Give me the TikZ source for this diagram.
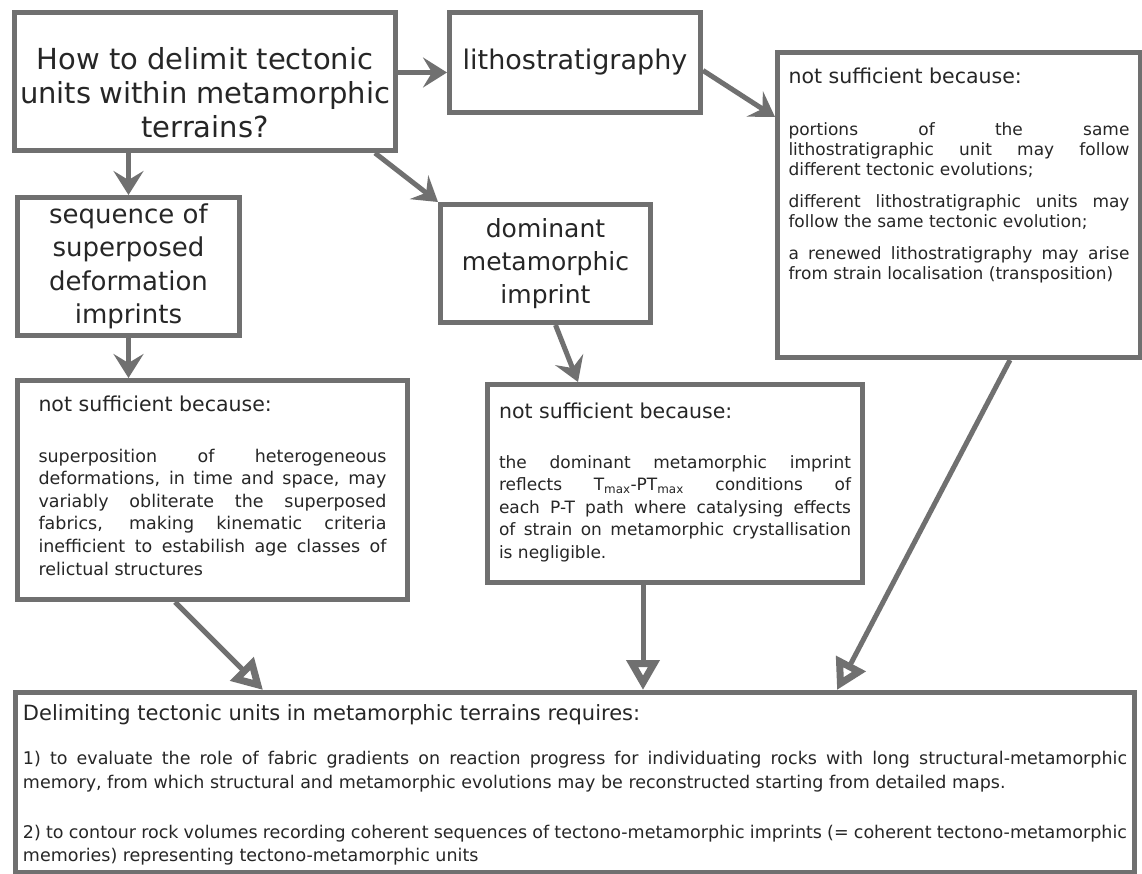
\documentclass[tikz,border=0pt]{standalone}
\usepackage{fontspec}
\setmainfont{DejaVu Sans}
\usepackage{tikz}
\usetikzlibrary{arrows.meta}
\definecolor{framegray}{RGB}{112,112,112}
\definecolor{inkgray}{RGB}{38,38,38}

\begin{document}
\begin{tikzpicture}[x=1pt, y=-1pt,
    box/.style={draw=framegray, line width=5pt, fill=white, anchor=north west, inner ysep=0pt, text=inkgray},
    push/.style={draw=framegray, line width=5pt, -{Stealth[length=24pt, width=30pt, inset=9pt]}},
    merge/.style={draw=framegray, line width=5pt, -{Triangle[open, length=30pt, width=32pt, line width=7pt]}}]

    % Canvas
    \useasboundingbox (0,0) rectangle (1142,874);
    \fill[white] (0,0) rectangle (1142,874);

    % Question
    \node[box, inner xsep=5.5] (question) at (12,10) {\begin{minipage}[c][138pt][t]{370pt}\centering\fontsize{29}{34}\selectfont
        \vspace*{35pt}How to delimit tectonic\\units within metamorphic\\terrains?\end{minipage}};

    % Three candidate criteria
    \node[box, inner sep=0pt, minimum width=251, minimum height=100, font=\fontsize{27}{32}\selectfont] (litho) at (447,10) {lithostratigraphy};
    \node[box, inner sep=0pt, minimum width=222, minimum height=138, align=center, font=\fontsize{26}{33.5}\selectfont] (sequence) at (15,195) {sequence of\\superposed\\deformation\\imprints};
    \node[box, inner sep=0pt, minimum width=210, minimum height=118, align=center, font=\fontsize{25}{33}\selectfont] (dominant) at (438,202) {dominant\\metamorphic\\imprint};

    % Why each one fails
    \node[box, inner xsep=11] (lithoreason) at (775,50) {\begin{minipage}[c][305pt][t]{341pt}\sloppy\hyphenpenalty=10000\exhyphenpenalty=10000
        \vspace*{15pt}{\fontsize{20.5}{24}\selectfont not sufficient because:\par}
        \vspace{32pt}\fontsize{17}{20}\selectfont
        portions of the same\linebreak lithostratigraphic unit may follow\linebreak different tectonic evolutions;\par
        \vspace{12pt}
        different lithostratigraphic units may\linebreak follow the same tectonic evolution;\par
        \vspace{12.5pt}
        a renewed lithostratigraphy may arise\linebreak from strain localisation (transposition)\par\end{minipage}};

    \node[box, inner xsep=21] (seqreason) at (15,378) {\begin{minipage}[c][219pt][t]{348pt}\sloppy\hyphenpenalty=10000\exhyphenpenalty=10000
        \vspace*{15pt}{\fontsize{20.5}{24}\selectfont not sufficient because:\par}
        \vspace{28.4pt}\fontsize{17.5}{22.6}\selectfont
        superposition of heterogeneous\linebreak deformations, in time and space, may\linebreak variably obliterate the superposed\linebreak fabrics, making kinematic criteria\linebreak inefficient to estabilish age classes of\linebreak relictual structures\par\end{minipage}};

    \node[box, inner xsep=11.5] (domreason) at (485,382) {\begin{minipage}[c][198pt][t]{352pt}\sloppy\hyphenpenalty=10000\exhyphenpenalty=10000
        \vspace*{18pt}{\fontsize{20.5}{24}\selectfont not sufficient because:\par}
        \vspace{27.5pt}\fontsize{17}{22.5}\selectfont
        the dominant metamorphic imprint\linebreak reflects T\textsubscript{max}-PT\textsubscript{max} conditions of\linebreak each P-T path where catalysing effects\linebreak of strain on metamorphic crystallisation\linebreak is negligible.\par\end{minipage}};

    % Conclusion
    \node[box, inner xsep=7.5] (requires) at (13,690) {\begin{minipage}[c][180pt][t]{1104pt}\sloppy\hyphenpenalty=10000\exhyphenpenalty=10000
        \vspace*{12pt}{\fontsize{21}{25}\selectfont Delimiting tectonic units in metamorphic terrains requires:\par}
        \vspace{21pt}\fontsize{17.5}{23.5}\selectfont
        1) to evaluate the role of fabric gradients on reaction progress for individuating rocks with long structural-metamorphic\linebreak memory, from which structural and metamorphic evolutions may be reconstructed starting from detailed maps.\par
        \vspace{26.5pt}
        2) to contour rock volumes recording coherent sequences of tectono-metamorphic imprints (= coherent tectono-metamorphic\linebreak memories) representing tectono-metamorphic units\par\end{minipage}};

    % Arrows from the question
    \draw[push] ([yshift=9pt]question.east) -- ([yshift=-10pt]litho.west);
    \draw[push] (question.south -| sequence.north) -- (sequence.north);
    \draw[push] ([xshift=-23pt]question.south east) -- (dominant.north west);

    % Arrows to the reasons
    \draw[push] ([yshift=-8pt]litho.east) -- ([yshift=-67pt]lithoreason.north west);
    \draw[push] (sequence.south) -- (sequence.south |- seqreason.north);
    \draw[push] ([xshift=10pt]dominant.south) -- ([xshift=93pt]domreason.north west);

    % Arrows into the conclusion
    \coordinate (domfoot) at ([xshift=158pt]domreason.south west);
    \draw[merge] ([xshift=160pt]seqreason.south west) -- ([xshift=250pt]requires.north west);
    \draw[merge] (domfoot) -- (domfoot |- requires.north);
    \draw[merge] ([xshift=235pt]lithoreason.south west) -- ([xshift=824pt]requires.north west);
\end{tikzpicture}
\end{document}
